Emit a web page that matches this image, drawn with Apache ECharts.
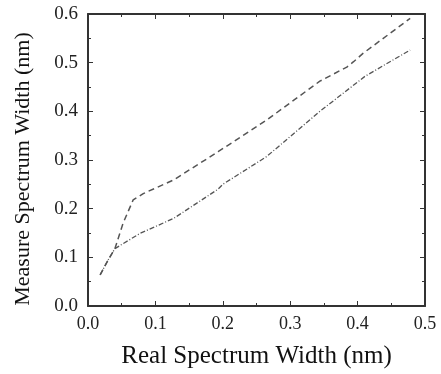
<!DOCTYPE html>
<html>
<head>
<meta charset="utf-8">
<script src="https://cdn.jsdelivr.net/npm/echarts@6/dist/echarts.min.js"></script>
<style>
  html, body { margin: 0; padding: 0; background: #fff; }
  #chart { width: 441px; height: 374px; }
</style>
</head>
<body>
<div id="chart"></div>
<script>
// x values (real width, nm) and y values (measured width, nm)
const upperX = [0.018, 0.030, 0.040, 0.052, 0.067, 0.082, 0.127, 0.193, 0.265, 0.344, 0.384, 0.394, 0.408, 0.478]
const upperY = [0.064, 0.095, 0.118, 0.170, 0.218, 0.231, 0.259, 0.317, 0.382, 0.462, 0.491, 0.502, 0.519, 0.591]

const lowerX = [0.018, 0.030, 0.040, 0.077, 0.127, 0.193, 0.200, 0.265, 0.344, 0.411, 0.478]
const lowerY = [0.064, 0.095, 0.118, 0.149, 0.180, 0.240, 0.250, 0.307, 0.400, 0.472, 0.526]

const xTicks = ['0.0', '0.1', '0.2', '0.3', '0.4', '0.5']
const yTicks = ['0.0', '0.1', '0.2', '0.3', '0.4', '0.5', '0.6']

const pairs = (xs, ys) => xs.map((x, i) => [x, ys[i]])

const font = 'Liberation Serif'
const ink = '#333'

const baseAxis = {
  type: 'value',
  axisLine: { show: true, onZero: false, lineStyle: { color: ink, width: 2 } },
  axisTick: { show: true, inside: true, length: 5, lineStyle: { color: ink } },
  minorTick: { show: true, splitNumber: 2, length: 3, lineStyle: { color: ink } },
  splitLine: { show: false },
}

const chart = echarts.init(document.getElementById('chart'))
chart.setOption({
  animation: false,
  grid: { left: 88, right: 16, top: 14, bottom: 68 },
  xAxis: [
    {
      ...baseAxis,
      min: 0, max: 0.5, interval: 0.1,
      name: 'Real Spectrum Width (nm)',
      nameLocation: 'middle',
      nameGap: 38,
      nameTextStyle: { fontFamily: font, color: '#111', fontSize: 25 },
      axisLabel: {
        fontFamily: font, fontSize: 18, color: '#222', margin: 9,
        formatter: (v) => xTicks[Math.round(v * 10)],
      },
    },
    {
      ...baseAxis,
      position: 'top',
      min: 0, max: 0.5, interval: 0.1,
      axisLabel: { show: false },
    },
  ],
  yAxis: [
    {
      ...baseAxis,
      min: 0, max: 0.6, interval: 0.1,
      name: 'Measure Spectrum Width (nm)',
      nameLocation: 'middle',
      nameGap: 54,
      // nudge the rotated title a little downwards, as in the original
      nameTextStyle: { fontFamily: font, color: '#111', fontSize: 22, padding: [0, 0, 0, -18] },
      axisLabel: {
        fontFamily: font, fontSize: 19, color: '#222', margin: 10,
        formatter: (v) => yTicks[Math.round(v * 10)],
      },
    },
    {
      ...baseAxis,
      position: 'right',
      min: 0, max: 0.6, interval: 0.1,
      axisLabel: { show: false },
    },
  ],
  series: [
    {
      type: 'line',
      data: pairs(upperX, upperY),
      symbol: 'none',
      lineStyle: { color: '#555', width: 1.5, type: [6, 4] },
    },
    {
      type: 'line',
      data: pairs(lowerX, lowerY),
      symbol: 'none',
      lineStyle: { color: '#555', width: 1.3, type: [5, 2, 1, 2] },
    },
  ],
})
</script>
</body>
</html>
